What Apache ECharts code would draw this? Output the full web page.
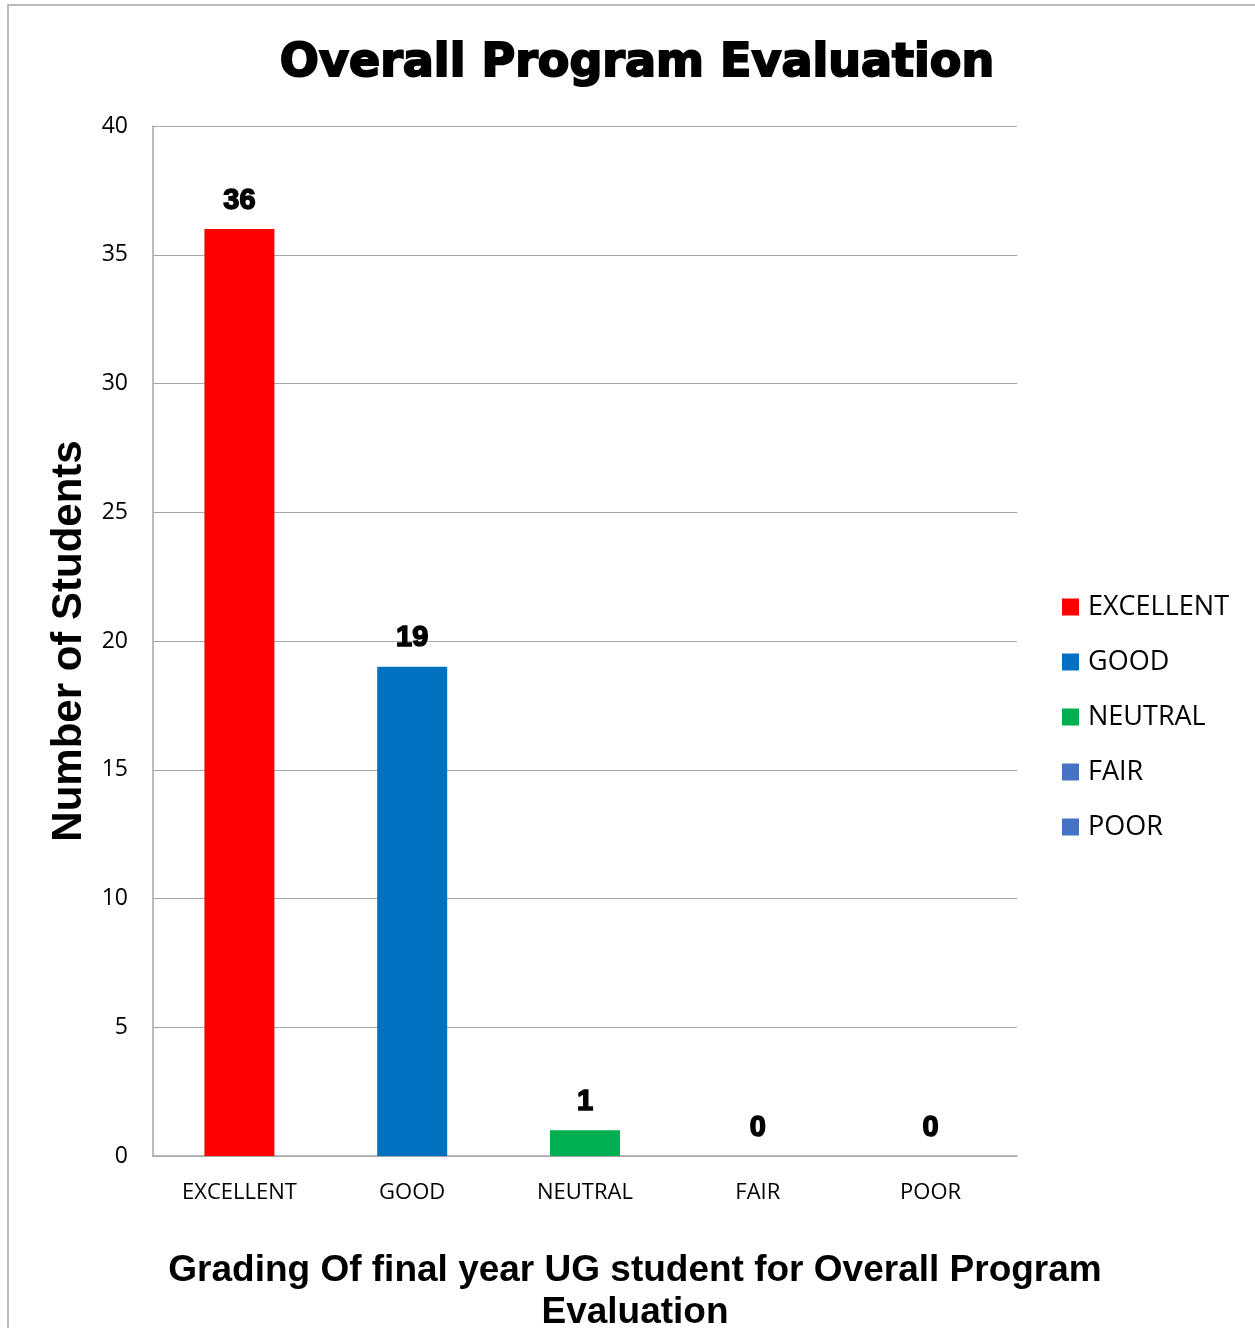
<!DOCTYPE html>
<html>
<head>
<meta charset="utf-8">
<script src="https://cdn.jsdelivr.net/npm/echarts@6/dist/echarts.min.js"></script>
<style>
html,body{margin:0;padding:0;background:#fff;}
#c{width:1255px;height:1328px;}
</style>
</head>
<body>
<div id="c"></div>
<script>
const categories = ['EXCELLENT', 'GOOD', 'NEUTRAL', 'FAIR', 'POOR'];
const values = [36, 19, 1, 0, 0];
const colors = ['#FF0000', '#0070C0', '#00B050', '#4472C4', '#4472C4'];
const yTicks = [0, 5, 10, 15, 20, 25, 30, 35, 40];

const chart = echarts.init(document.getElementById('c'));
const series = categories.map((c, i) => ({
  name: c,
  type: 'bar',
  stack: 'all',
  barWidth: 70,
  itemStyle: { color: colors[i] },
  data: categories.map((_, j) => (j === i ? values[i] : null)),
  label: {
    show: true,
    position: 'top',
    distance: 14,
    color: '#000',
    fontFamily: 'Liberation Sans',
    fontWeight: 'bold',
    fontSize: 29,
    textBorderColor: '#000',
    textBorderWidth: 1.5
  }
}));

chart.setOption({
  animation: false,
  backgroundColor: '#fff',
  title: [
    {
      text: 'Overall Program Evaluation',
      left: 632,
      textAlign: 'center',
      top: 36,
      textStyle: {
        fontFamily: 'DejaVu Sans',
        fontWeight: 'bold',
        fontSize: 46,
        color: '#000',
        textBorderColor: '#000',
        textBorderWidth: 2
      }
    },
    {
      text: 'Grading Of final year UG student for Overall Program\nEvaluation',
      left: 630,
      textAlign: 'center',
      top: 1245,
      textStyle: {
        fontFamily: 'Liberation Sans',
        fontWeight: 'bold',
        fontSize: 37,
        lineHeight: 42,
        color: '#000'
      }
    }
  ],
  legend: {
    orient: 'vertical',
    left: 1057,
    top: 587,
    itemWidth: 17,
    itemHeight: 17,
    itemGap: 25,
    icon: 'rect',
    data: categories,
    textStyle: { fontFamily: 'Open Sans', fontSize: 27, color: '#000', lineHeight: 30, padding: [0, 0, 0, 4] }
  },
  grid: { left: 153, right: 238, top: 126, bottom: 172, outerBoundsMode: 'none', containLabel: false },
  xAxis: {
    type: 'category',
    data: categories,
    axisTick: { show: false },
    axisLine: { lineStyle: { color: '#A6A6A6', width: 1.5 } },
    axisLabel: { fontFamily: 'Open Sans', fontSize: 22, color: '#000', margin: 26 }
  },
  yAxis: {
    type: 'value',
    min: 0,
    max: 40,
    interval: 5,
    axisLine: { show: true, lineStyle: { color: '#A6A6A6', width: 1.5 } },
    axisTick: { show: false },
    splitLine: { lineStyle: { color: '#A6A6A6', width: 1.2 } },
    axisLabel: {
      fontFamily: 'Open Sans', fontSize: 23, color: '#000', margin: 25,
      formatter: v => (yTicks.includes(v) ? String(v) : '')
    },
    name: 'Number of Students',
    nameLocation: 'middle',
    nameGap: 62,
    nameTextStyle: {
      fontFamily: 'Liberation Sans',
      fontWeight: 'bold',
      fontSize: 42,
      color: '#000'
    }
  },
  graphic: [
    {
      type: 'polyline',
      shape: { points: [[8, 1328], [8, 5], [1255, 5]] },
      style: { stroke: '#A6A6A6', lineWidth: 1.5, fill: null },
      silent: true
    }
  ],
  series: series
});
</script>
</body>
</html>
